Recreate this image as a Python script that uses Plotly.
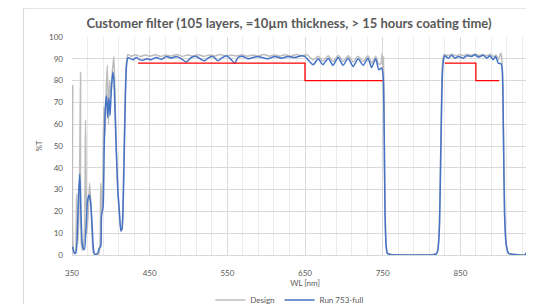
import plotly.graph_objects as go

# ---------------- data ----------------
run_wl = [350, 351, 353, 355, 357, 358.5, 360, 361.5, 363, 364.5, 366, 368, 370, 372, 374, 376,
          377.5, 379, 381, 383, 385, 387, 388, 390, 391.5, 393, 394.5, 396, 397.5, 399, 400.5,
          402.5, 404, 405.5, 407, 409, 411, 413, 414.5, 416, 418, 420, 422, 424, 428.5, 432.8,
          437, 441.4, 445.7, 452, 458.6, 465, 471.5, 478, 484.4, 491, 497, 503.7, 510, 516.6,
          521, 525, 531.6, 538, 542.4, 549, 555, 559.5, 563.8, 570, 576.7, 583, 589.6, 594,
          602.5, 611, 619.7, 628, 637, 645.5, 649.7, 655, 660.5, 667, 673, 680, 686, 692.6, 699,
          705.5, 712, 718.4, 725, 731, 735.7, 741, 745, 748.6, 750.6, 752, 753, 754.5, 756, 760,
          780, 800, 815, 819, 821, 823, 825, 827, 828.5, 830, 834.5, 838.8, 843, 847.3, 853.7,
          858, 864.5, 868.8, 873, 879.5, 884, 888, 892.4, 895.5, 898.8, 902.3, 904, 905.5, 907,
          909, 912, 920, 933, 936, 939, 950]
run_t = [3, 3.5, 0.8, 1, 12, 28, 37, 20, 6, 3, 2.5, 12, 25, 27.5, 24, 13,
         3, 0.5, 0.3, 0.8, 3, 4, 18, 22, 50, 68, 73, 63, 72, 64, 75,
         84, 80, 65, 48, 30, 20, 11, 12, 25, 60, 86, 90.5, 90.3, 89.6, 90.6,
         89.6, 89.3, 90.0, 89.6, 90.6, 89.7, 91.1, 90.3, 91.1, 90.0, 88.5, 90.6, 91.1, 89.6,
         89.1, 90.3, 91.1, 89.1, 90.3, 91.4, 89.6, 88.0, 90.6, 91.1, 90.0, 90.6, 91.1, 90.6,
         90.0, 91.1, 90.3, 91.1, 90.6, 91.4, 91.1, 89.1, 87.3, 90.0, 87.3, 90.3, 87.0, 90.6, 87.0,
         90.3, 86.5, 90.0, 87.0, 90.3, 86.0, 90.0, 85.0, 85.8, 82, 55, 20, 4, 0.8, 0.2,
         0, 0, 0.1, 0.5, 2, 12, 50, 84, 90, 91.4, 90.3, 91.6, 90.3, 91.1, 90.3,
         91.4, 91.1, 91.9, 90.8, 91.6, 90.3, 91.4, 89.6, 91.1, 88.0, 87.7, 85, 55, 18,
         5, 0.8, 0.2, 0, 1.5, 0, 0]

design_wl = [350, 351, 352, 354, 356, 357.5, 359, 360, 361, 362, 364, 366, 367.5, 369, 371, 372.7,
             374.5, 376, 377.5, 380, 384, 386, 387, 388.5, 390, 391, 392.5, 394, 395.5, 397, 398.5,
             400, 401.5, 403, 404, 405.5, 407, 409, 411, 413, 414.5, 416, 418, 420, 422,
             426, 432, 438, 444, 450, 457, 464, 471, 478, 485, 492, 499, 506, 513, 520, 527, 534,
             541, 548, 555, 562, 569, 576, 583, 590, 597, 604, 611, 618, 625, 632, 639, 646,
             653, 660, 667, 673, 680, 686, 693, 699, 706, 712, 718, 725, 731, 736, 741, 745,
             748, 749.2, 750.4, 751.2, 752, 753, 754.5, 756, 760, 800, 819, 821, 823, 825, 827,
             829, 834, 839, 844, 849, 854, 859, 864, 869, 874, 879, 884, 889, 893, 896, 899,
             902, 903.2, 904, 905.5, 907, 909, 912, 920, 950]
design_t = [0, 78, 2, 1, 28, 5, 20, 44, 84, 5, 2, 12, 62, 10, 20, 33,
            22, 8, 1, 0, 0, 5, 33, 19, 40, 68, 55, 75, 87, 60, 80,
            72, 82, 88, 91, 70, 50, 30, 18, 11, 13, 30, 65, 88, 92,
            91.2, 91.9, 91.0, 91.8, 91.2, 91.9, 91.1, 91.8, 91.3, 92.0, 91.1, 91.8, 91.3, 91.9, 91.1, 91.8, 91.3,
            92.0, 91.2, 91.8, 91.3, 91.9, 91.2, 91.8, 91.3, 92.0, 91.2, 91.8, 91.3, 91.9, 91.2, 92.0, 91.4,
            91.8, 89.5, 91.2, 89.0, 91.4, 88.8, 91.5, 88.8, 91.4, 88.5, 91.2, 88.8, 91.4, 88.0, 91.2, 87.5,
            88, 92.5, 84, 91, 60, 22, 5, 1, 0.2, 0, 0.4, 2.5, 14, 55, 88,
            92, 91.5, 92.1, 91.4, 92.0, 91.5, 92.1, 91.6, 92.2, 91.5, 92.0, 91.4, 92.1, 91.0, 91.8, 89.5,
            92.5, 91, 86, 58, 20, 5, 0.8, 0.2, 0]

spec1_wl = [435, 650, 650, 750]
spec1_t = [88, 88, 80, 80]
spec2_wl = [830, 870, 870, 900]
spec2_t = [88, 88, 80, 80]

x_tick_vals = [350, 450, 550, 650, 750, 850, 950]
y_tick_vals = [0, 10, 20, 30, 40, 50, 60, 70, 80, 90, 100]

assert len(run_wl) == len(run_t)
assert len(design_wl) == len(design_t)

# ---------------- figure ----------------
FONT = "Lato, 'Open Sans', sans-serif"
TXT = "#595959"
GRID = "#D9D9D9"

fig = go.Figure()
fig.add_trace(go.Scatter(x=design_wl, y=design_t, mode="lines", name="Design",
                         line=dict(color="#BDBDBD", width=1.5, shape="spline", smoothing=0.6)))
fig.add_trace(go.Scatter(x=run_wl, y=run_t, mode="lines", name="Run 753-full",
                         line=dict(color="#4472C4", width=1.5, shape="spline", smoothing=0.6)))
fig.add_trace(go.Scatter(x=spec1_wl, y=spec1_t, mode="lines", showlegend=False,
                         line=dict(color="#FF0000", width=1.3)))
fig.add_trace(go.Scatter(x=spec2_wl, y=spec2_t, mode="lines", showlegend=False,
                         line=dict(color="#FF0000", width=1.3)))

# The page body has an 8 px margin, so figure coords = page coords - 8.
OFF = 8
W, H = 545, 300
L = 72.4 - OFF          # x = 350
RIGHT = 538 - OFF       # x = 950 (beyond the visible window, as in the reference)
TOP = 37.3 - OFF        # y = 100
BOT = 255 - OFF         # y = 0
PW, PH = RIGHT - L, BOT - TOP

def px(xp):  # page x -> paper x
    return (xp - OFF - L) / PW

def py(yp):  # page y -> paper y
    return (BOT - (yp - OFF)) / PH

fig.update_layout(
    width=W, height=H,
    margin=dict(l=L, r=W - RIGHT, t=TOP, b=H - BOT, pad=0, autoexpand=False),
    paper_bgcolor="white", plot_bgcolor="white",
    font=dict(family=FONT, size=8, color=TXT),
    title=dict(text="<b>Customer filter (105 layers, =10µm thickness, &gt; 15 hours coating time)</b>",
               x=(289 - OFF) / W, xanchor="center", y=1 - (23 - OFF) / H, yanchor="middle",
               font=dict(family=FONT, size=13, color=TXT)),
    xaxis=dict(range=[350, 950], tickvals=x_tick_vals,
               showgrid=True, gridcolor=GRID, gridwidth=1, automargin=False,
               minor=dict(dtick=20, tick0=350, showgrid=True, gridcolor="#EBEBEB", gridwidth=1),
               showline=True, linecolor=GRID, linewidth=1, zeroline=False,
               ticks="", ticklabelstandoff=10,
               title=dict(text="WL [nm]", standoff=0, font=dict(size=8, color=TXT)),
               tickfont=dict(size=8, color=TXT)),
    yaxis=dict(range=[0, 100], tickvals=y_tick_vals, automargin=False,
               showgrid=True, gridcolor=GRID, gridwidth=1, zeroline=False,
               showline=False, ticks="", ticklabelstandoff=8,
               title=dict(text="%T", standoff=5, font=dict(size=8, color=TXT)),
               tickfont=dict(size=8, color=TXT)),
    legend=dict(orientation="h", x=px(290), xanchor="center",
                y=py(300), yanchor="middle", itemwidth=30,
                font=dict(size=8, color=TXT), bgcolor="rgba(0,0,0,0)"),
    shapes=[dict(type="rect", xref="paper", yref="paper",
                 x0=px(24), x1=1.3, y0=-0.5, y1=py(8.5),
                 line=dict(color="#D9D9D9", width=1), layer="below")],
)

fig.write_html("out.html")
